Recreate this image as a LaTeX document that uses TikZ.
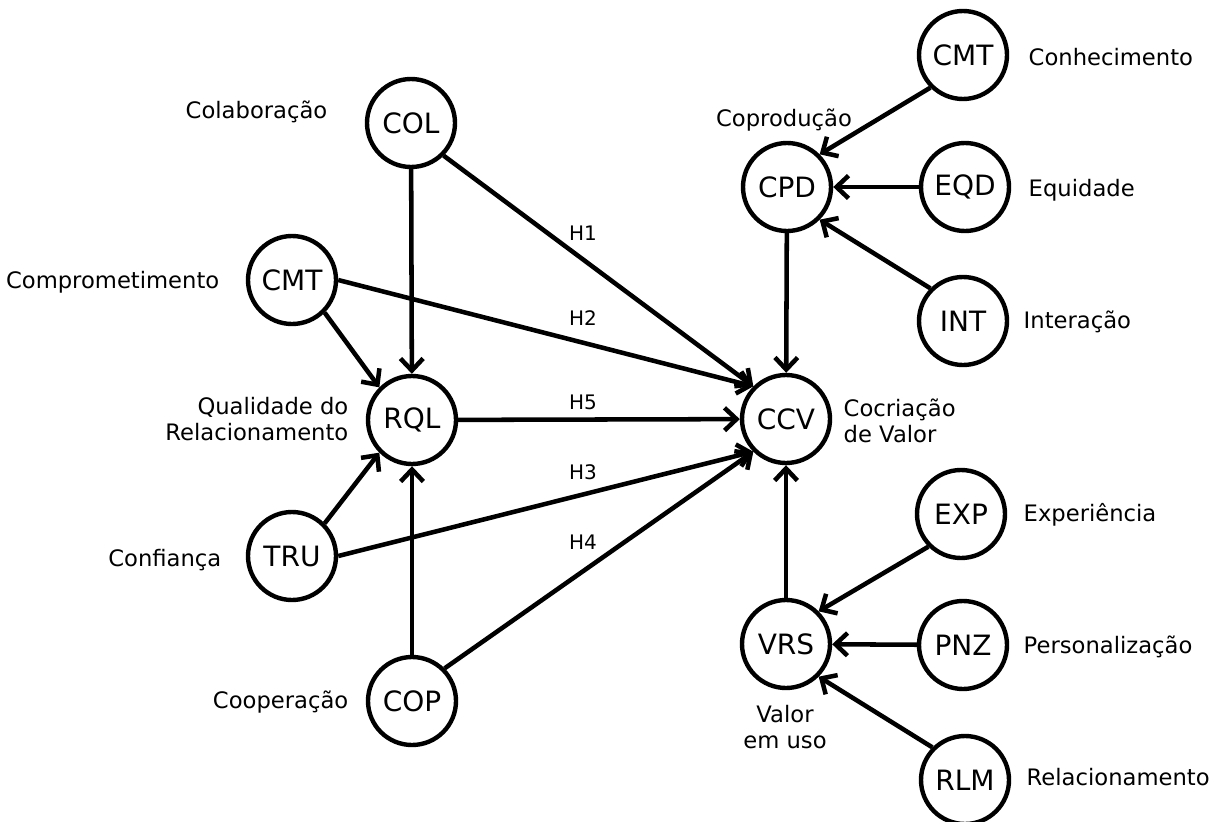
\documentclass[tikz,border=0pt]{standalone}
\usepackage{fontspec}
\setmainfont{DejaVu Sans}
\usetikzlibrary{arrows.meta}
\tikzset{
  var/.style={circle,draw,line width=3.3pt,minimum size=66pt,inner sep=0pt,
    font=\fontsize{21}{25}\selectfont},
  lbl/.style={font=\fontsize{17}{20}\selectfont},
  hyp/.style={font=\fontsize{15}{18}\selectfont},
  rel/.style={line width=3.4pt,-{Straight Barb[length=9pt,width=17pt,line width=3.4pt]}}
}
\begin{document}
\begin{tikzpicture}[x=0.75pt,y=-0.75pt]
  \useasboundingbox (0,0) rectangle (1224,821);
  % constructs
  \node[var] (col) at (411,123) {COL};
  \node[var] (cmt) at (292,280) {CMT};
  \node[var] (rql) at (412,420) {RQL};
  \node[var] (tru) at (292,556) {TRU};
  \node[var] (cop) at (412,701) {COP};
  \node[var] (ccv) at (786,419) {CCV};
  \node[var] (cpd) at (787,187) {CPD};
  \node[var] (cnh) at (963,55) {CMT};
  \node[var] (eqd) at (965,187) {EQD};
  \node[var] (int) at (963,321) {INT};
  \node[var] (vrs) at (786,644) {VRS};
  \node[var] (exp) at (961,514) {EXP};
  \node[var] (pnz) at (963,645) {PNZ};
  \node[var] (rlm) at (965,780) {RLM};
  % names
  \node[lbl,anchor=east] (lcol) at (332,112) {Colaboração};
  \node[lbl,anchor=east] (lcmt) at (224,282) {Comprometimento};
  \node[lbl,anchor=east,align=right] (lrql) at (353,419) {Qualidade do\\Relacionamento};
  \node[lbl,anchor=east] (ltru) at (226,560) {Confiança};
  \node[lbl,anchor=east] (lcop) at (353,702) {Cooperação};
  \node[lbl] (lcpd) at (784,120) {Coprodução};
  \node[lbl,anchor=west] (lcnh) at (1024,57) {Conhecimento};
  \node[lbl,anchor=west] (leqd) at (1024,190) {Equidade};
  \node[lbl,anchor=west] (lint) at (1019,322) {Interação};
  \node[lbl,anchor=west,align=left] (lccv) at (839,421) {Cocriação\\de Valor};
  \node[lbl,anchor=west] (lexp) at (1019,515) {Experiência};
  \node[lbl,anchor=west] (lpnz) at (1019,647) {Personalização};
  \node[lbl,align=center] (lvrs) at (785,727) {Valor\\em uso};
  \node[lbl,anchor=west] (lrlm) at (1022,777) {Relacionamento};
  % paths
  \draw[rel] (col) -- (rql);
  \draw[rel] (cmt.south east) -- (rql.north west);
  \draw[rel] (tru.north east) -- (rql.south west);
  \draw[rel] (cop) -- (rql);
  \draw[rel] (col.south east) -- (ccv.north west);
  \draw[rel] (cmt.east) -- (ccv.north west);
  \draw[rel] (rql) -- (ccv);
  \draw[rel] (tru.east) -- (ccv.south west);
  \draw[rel] (cop.north east) -- (ccv.south west);
  \draw[rel] (cpd) -- (ccv);
  \draw[rel] (vrs) -- (ccv);
  \draw[rel] (cnh.south west) -- (cpd.north east);
  \draw[rel] (eqd) -- (cpd);
  \draw[rel] (int.north west) -- (cpd.south east);
  \draw[rel] (exp.south west) -- (vrs.north east);
  \draw[rel] (pnz) -- (vrs);
  \draw[rel] (rlm.north west) -- (vrs.south east);
  % hypotheses
  \node[hyp] (h1) at (583,233) {H1};
  \node[hyp] (h2) at (583,318) {H2};
  \node[hyp] (h5) at (583,402) {H5};
  \node[hyp] (h3) at (583,472) {H3};
  \node[hyp] (h4) at (583,542) {H4};
\end{tikzpicture}
\end{document}
